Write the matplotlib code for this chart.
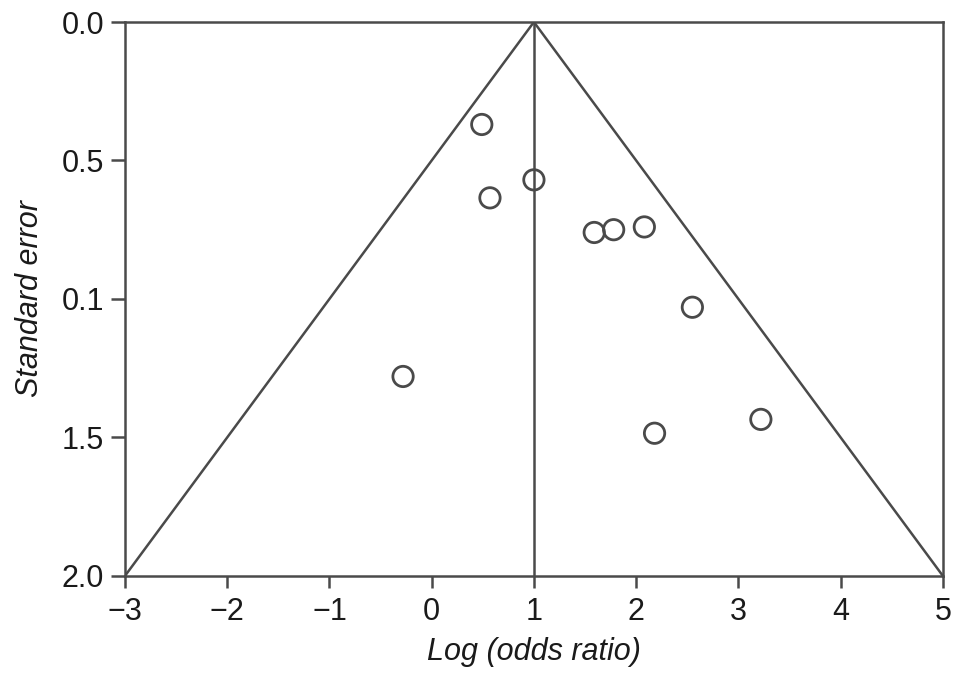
import matplotlib
matplotlib.use("Agg")
import matplotlib.pyplot as plt

plt.rcParams['font.family'] = ['Liberation Sans', 'DejaVu Sans']

log_or = [0.49, 1.0, 0.57, 1.59, 1.78, 2.08, 2.55, -0.28, 3.22, 2.18]
std_err = [0.37, 0.57, 0.635, 0.76, 0.75, 0.74, 1.03, 1.28, 1.435, 1.485]

funnel_x = [-3, 1, 5]
funnel_y = [2.0, 0.0, 2.0]
center_x = [1, 1]
center_y = [0.0, 2.0]

xticks = [-3, -2, -1, 0, 1, 2, 3, 4, 5]
xticklabels = ['\u22123', '\u22122', '\u22121', '0', '1', '2', '3', '4', '5']
yticks = [0.0, 0.5, 1.0, 1.5, 2.0]
yticklabels = ['0.0', '0.5', '0.1', '1.5', '2.0']

col = '#4a4a4a'
fig = plt.figure(figsize=(9.69, 6.88), dpi=100)
ax = fig.add_axes([0.129, 0.163, 0.844, 0.805])

ax.plot(funnel_x, funnel_y, color=col, lw=1.8, solid_joinstyle='miter', zorder=2)
ax.plot(center_x, center_y, color=col, lw=1.8, zorder=2)
ax.scatter(log_or, std_err, s=215, facecolors='none', edgecolors=col, linewidths=2.0, zorder=3)

ax.set_xlim(-3, 5)
ax.set_ylim(2.0, 0.0)
ax.set_xticks(xticks)
ax.set_xticklabels(xticklabels)
ax.set_yticks(yticks)
ax.set_yticklabels(yticklabels)
for s in ax.spines.values():
    s.set_color(col)
    s.set_linewidth(1.8)
ax.tick_params(direction='out', width=1.8, color=col, labelsize=22, labelcolor='#1a1a1a')
ax.tick_params(axis='x', length=8.5, pad=7)
ax.tick_params(axis='y', length=10, pad=5)
ax.set_xlabel('Log (odds ratio)', fontsize=22, style='italic', color='#1a1a1a', labelpad=7)
ax.set_ylabel('Standard error', fontsize=22, style='italic', color='#1a1a1a', labelpad=12)

fig.savefig('out.png', dpi=100)
